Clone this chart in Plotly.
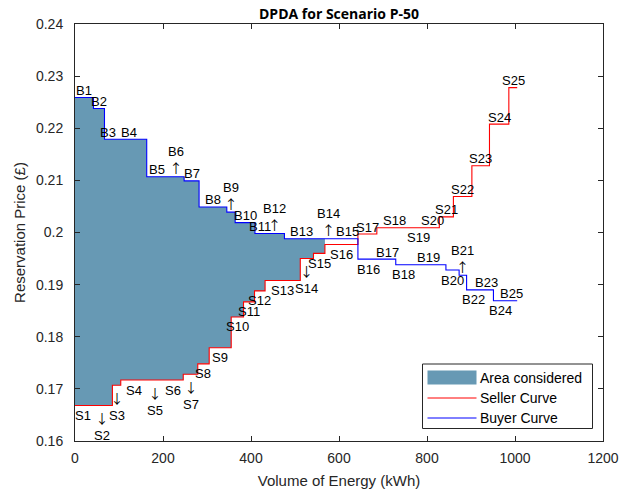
import numpy as np
import plotly.graph_objects as go

# ---- bids: energy offered/requested (kWh) and reservation price (£/kWh) ----
buyer_names = [f"B{i}" for i in range(1, 26)]
buyer_volume = [42, 25, 15, 81, 46, 39, 34, 63, 19, 45, 23, 44, 79, 42, 46,
                48, 38, 35, 79, 30, 17, 31, 30, 30, 24]
buyer_price = [0.2259, 0.2238, 0.2179, 0.2179, 0.2107, 0.2107, 0.2099, 0.2049,
               0.2039, 0.2019, 0.1998, 0.1998, 0.1988, 0.1988, 0.1988, 0.1949,
               0.1949, 0.1938, 0.1938, 0.1928, 0.1918, 0.1890, 0.1890, 0.1869,
               0.1869]

seller_names = [f"S{i}" for i in range(1, 26)]
seller_volume = [36, 49, 19, 60, 36, 46, 33, 26, 50, 28, 25, 24, 80, 30, 26,
                 75, 43, 78, 34, 30, 32, 42, 40, 44, 19]
seller_price = [0.1668, 0.1668, 0.1707, 0.1717, 0.1717, 0.1717, 0.1728, 0.1748,
                0.1779, 0.1838, 0.1867, 0.1888, 0.1908, 0.1950, 0.1960, 0.1977,
                0.1997, 0.2009, 0.2009, 0.2009, 0.2030, 0.2069, 0.2128, 0.2208,
                0.2278]

# number of sellers whose offers fall inside the considered area
cleared_sellers = 15

# label placement: +1 above the step, -1 below; arrow marks a shifted label
buyer_label_side = [1] * 15 + [-1, 1, -1, 1, -1, 1, -1, 1, -1, 1]
buyer_label_arrow = [0, 0, 0, 0, 0, 1, 0, 0, 1, 0, 0, 1, 0, 1, 0,
                     0, 0, 0, 0, 0, 1, 0, 0, 0, 0]
seller_label_side = [-1] * 16 + [1, 1, -1, 1, 1, 1, 1, 1, 1]
seller_label_arrow = [0, 1, 1, 0, 1, 0, 1, 0, 0, 0, 0, 0, 0, 1, 0,
                      0, 0, 0, 0, 0, 0, 0, 0, 0, 0]

x_ticks = [0, 200, 400, 600, 800, 1000, 1200]
y_ticks = [0.16, 0.17, 0.18, 0.19, 0.20, 0.21, 0.22, 0.23, 0.24]
y_tick_text = ["0.16", "0.17", "0.18", "0.19", "0.2", "0.21", "0.22", "0.23", "0.24"]

legend_names = ["Area considered", "Seller Curve", "Buyer Curve"]

AX = "#262626"
FILL = "#6799B4"
RED = "#FF0000"
BLUE = "#0000FF"
FONT = "Liberation Sans, Arial, sans-serif"
ARROW_FONT = "Noto Sans CJK SC"

# plot area in pixels (figure is 622 x 495)
L, R, T, B = 75, 19, 24, 54
PW, PH = 622 - L - R, 495 - T - B


def stairs(volume, price):
    edges = np.concatenate([[0.0], np.cumsum(volume)])
    xs = np.repeat(edges, 2)[1:-1]
    ys = np.repeat(np.asarray(price, dtype=float), 2)
    return xs, ys, edges


bx, by, b_edges = stairs(buyer_volume, buyer_price)
sx, sy, s_edges = stairs(seller_volume, seller_price)

# considered area: between the buyer and seller curves up to the cleared volume
q = s_edges[cleared_sellers]
keep = bx <= q
k = np.searchsorted(b_edges, q, side="right") - 1
top_x = np.append(bx[keep], q)
top_y = np.append(by[keep], buyer_price[k])
low_x = sx[: 2 * cleared_sellers][::-1]
low_y = sy[: 2 * cleared_sellers][::-1]
area_x = np.concatenate([top_x, low_x])
area_y = np.concatenate([top_y, low_y])

fig = go.Figure()
fig.add_trace(go.Scatter(
    x=area_x, y=area_y, mode="lines", fill="toself", fillcolor=FILL,
    line=dict(width=0, color=FILL), name=legend_names[0], hoverinfo="skip",
    showlegend=False))
fig.add_trace(go.Scatter(
    x=sx, y=sy, mode="lines", line=dict(color=RED, width=1.1),
    name=legend_names[1], showlegend=False))
fig.add_trace(go.Scatter(
    x=bx, y=by, mode="lines", line=dict(color=BLUE, width=1.1),
    name=legend_names[2], showlegend=False))

ARROW_UP = f'<span style="font-family:{ARROW_FONT}">↑</span>'
ARROW_DOWN = f'<span style="font-family:{ARROW_FONT}">↓</span>'


def add_labels(names, edges, price, side, arrow, is_buyer):
    for i, name in enumerate(names):
        mid = 0.5 * (edges[i] + edges[i + 1])
        if arrow[i]:
            text = f"{name}<br>{ARROW_UP}" if is_buyer else f"{ARROW_DOWN}<br>{name}"
        else:
            text = name
        above = side[i] > 0
        fig.add_annotation(
            x=mid, y=price[i], xref="x", yref="y", text=text, showarrow=False,
            xanchor="center", yanchor="bottom" if above else "top",
            yshift=-1.5, font=dict(family=FONT, size=13, color="#000000"),
            borderpad=0)


add_labels(buyer_names, b_edges, buyer_price, buyer_label_side, buyer_label_arrow, True)
add_labels(seller_names, s_edges, seller_price, seller_label_side, seller_label_arrow, False)


# ---- legend box (drawn in paper coordinates from pixel positions) ----
def px(xp):
    return (xp - L) / PW


def py(yp):
    return (T + PH - yp) / PH


fig.add_shape(type="rect", xref="paper", yref="paper",
              x0=px(422.5), x1=px(592.5), y0=py(428.5), y1=py(364),
              line=dict(color=AX, width=1), fillcolor="#FFFFFF", layer="above")
fig.add_shape(type="rect", xref="paper", yref="paper",
              x0=px(427.5), x1=px(476.5), y0=py(384.5), y1=py(370.5),
              line=dict(width=0), fillcolor=FILL, layer="above")
fig.add_shape(type="line", xref="paper", yref="paper",
              x0=px(427.5), x1=px(476.5), y0=py(398), y1=py(398),
              line=dict(color=RED, width=1), layer="above")
fig.add_shape(type="line", xref="paper", yref="paper",
              x0=px(427.5), x1=px(476.5), y0=py(418), y1=py(418),
              line=dict(color=BLUE, width=1), layer="above")
for name, ycen in zip(legend_names, [377.5, 398, 418]):
    fig.add_annotation(x=px(479), y=py(ycen), xref="paper", yref="paper",
                       text=name, showarrow=False, xanchor="left",
                       yanchor="middle", borderpad=0,
                       font=dict(family=FONT, size=14, color="#000000"))

axis_common = dict(
    showline=True, linecolor=AX, linewidth=1, mirror="allticks",
    ticks="inside", ticklen=5, tickcolor=AX, tickwidth=1,
    showgrid=False, zeroline=False, automargin=False,
    tickfont=dict(family=FONT, size=14, color=AX),
)

fig.update_layout(
    width=622, height=495,
    margin=dict(l=L, r=R, t=T, b=B),
    paper_bgcolor="#FFFFFF", plot_bgcolor="#FFFFFF",
    title=dict(text="<b>DPDA for Scenario P-50</b>", x=339 / 622, xanchor="center",
               y=1 - 14 / 495, yanchor="middle", yref="container",
               font=dict(family="Open Sans, sans-serif", size=14, color="#000000")),
    showlegend=False,
)
fig.update_xaxes(range=[0, 1200], tickvals=x_ticks, ticklabelstandoff=4,
                 title=dict(text="Volume of Energy (kWh)", standoff=10,
                            font=dict(family=FONT, size=15, color=AX)),
                 **axis_common)
fig.update_yaxes(range=[0.16, 0.24], tickvals=y_ticks, ticktext=y_tick_text,
                 ticklabelstandoff=8,
                 title=dict(text="Reservation Price (£)", standoff=6,
                            font=dict(family=FONT, size=15, color=AX)),
                 **axis_common)

fig.write_html("out.html")
